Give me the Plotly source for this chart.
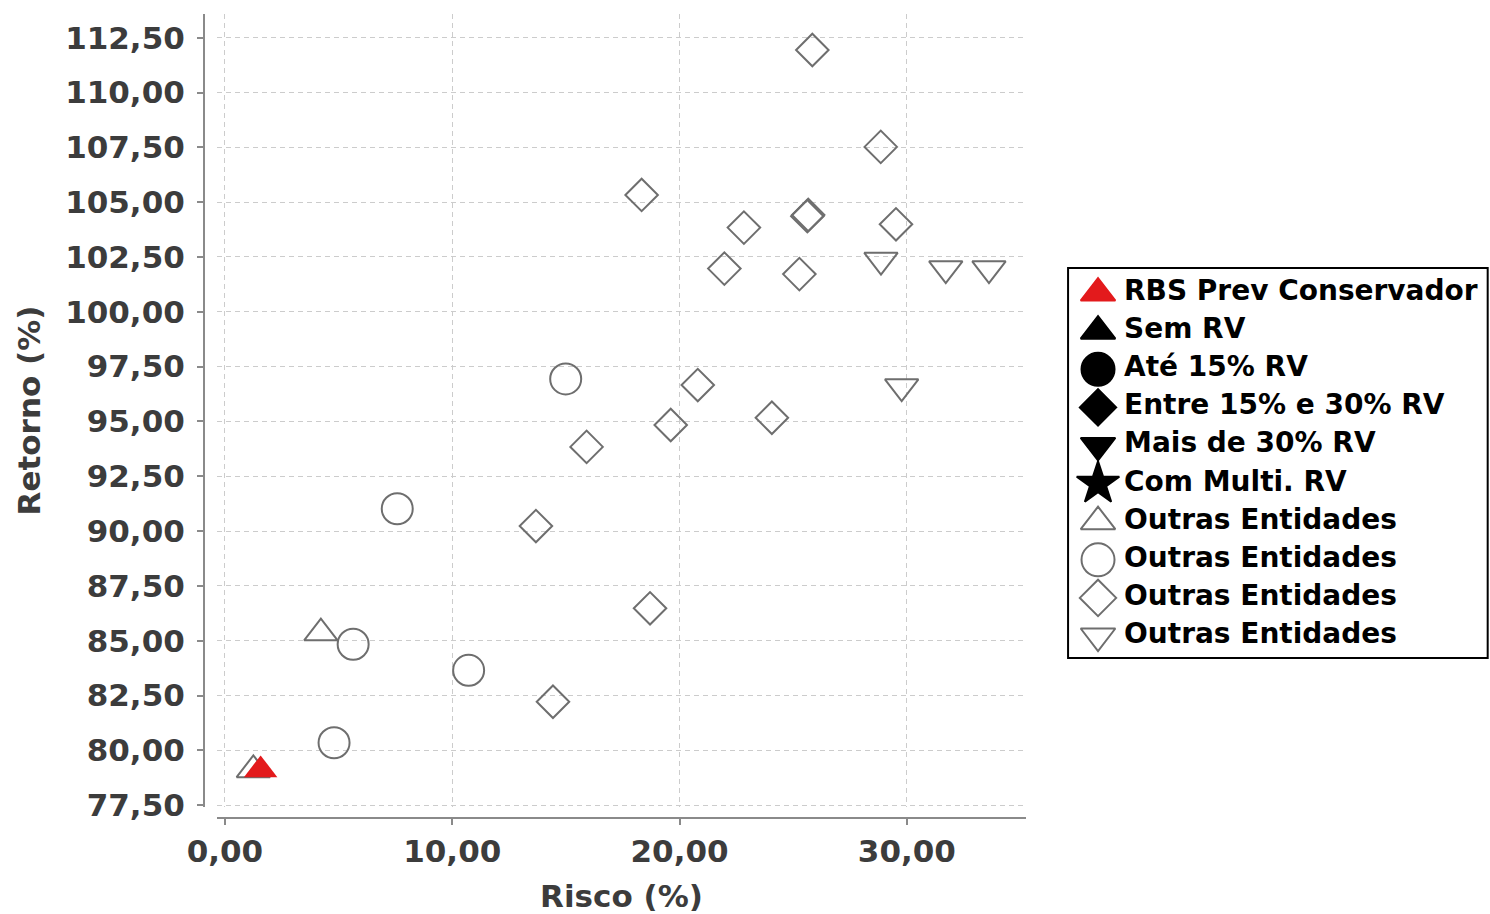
import plotly.graph_objects as go

# Risco (%) x Retorno (%) por entidade
tri_up_x = [4.22, 1.25]
tri_up_y = [85.35, 79.11]

circle_x = [14.99, 7.58, 5.64, 10.72, 4.80]
circle_y = [96.94, 91.02, 84.84, 83.65, 80.35]

diamond_x = [25.84, 28.85, 18.33, 22.83, 25.62, 25.66, 29.52, 21.97, 25.27,
             20.80, 19.61, 24.06, 15.91, 13.68, 18.70, 14.43]
diamond_y = [111.94, 107.52, 105.33, 103.84, 104.36, 104.42, 103.99, 101.97, 101.72,
             96.66, 94.84, 95.17, 93.84, 90.23, 86.48, 82.22]

tri_down_x = [28.86, 31.71, 33.61, 29.77]
tri_down_y = [102.36, 101.97, 101.97, 96.59]

rbs_x = [1.57]
rbs_y = [79.11]

# legenda (inclui categorias sem pontos)
leg_labels = ['RBS Prev Conservador', 'Sem RV', 'Até 15% RV', 'Entre 15% e 30% RV',
              'Mais de 30% RV', 'Com Multi. RV', 'Outras Entidades', 'Outras Entidades',
              'Outras Entidades', 'Outras Entidades']
leg_symbols = ['triangle-up', 'triangle-up', 'circle', 'diamond', 'triangle-down', 'star',
               'triangle-up-open', 'circle-open', 'diamond-open', 'triangle-down-open']

GRAY = '#6e6e6e'
RED = '#e31a1c'
TXT = '#3c3c3c'
FONT = 'DejaVu Sans'

leg_colors = [RED] + ['black'] * 5 + [GRAY] * 4
leg_sizes = {'triangle-up': 30, 'circle': 33, 'diamond': 28, 'triangle-down': 30, 'star': 32}

fig = go.Figure()

# Outras Entidades
outras = [
    (tri_up_x, tri_up_y, 'triangle-up-open', 29),
    (circle_x, circle_y, 'circle-open', 31),
    (diamond_x, diamond_y, 'diamond-open', 25),
    (tri_down_x, tri_down_y, 'triangle-down-open', 29),
]
for xs, ys, simb, sz in outras:
    fig.add_trace(go.Scatter(
        x=xs, y=ys, name='Outras Entidades', mode='markers',
        marker=dict(symbol=simb, size=sz, color=GRAY, line=dict(width=2, color=GRAY)),
    ))

# RBS Prev Conservador por cima
fig.add_trace(go.Scatter(
    x=rbs_x, y=rbs_y, name='RBS Prev Conservador', mode='markers',
    marker=dict(symbol='triangle-up', size=29, color=RED),
))

# caixa de legenda desenhada num eixo auxiliar (marcadores grandes como no original)
idx = list(range(len(leg_labels)))
fig.add_trace(go.Scatter(
    x=[0] * len(idx), y=idx, mode='markers', xaxis='x2', yaxis='y2',
    marker=dict(symbol=leg_symbols, color=leg_colors, opacity=1,
                size=[leg_sizes[s.replace('-open', '')] for s in leg_symbols],
                line=dict(width=2, color=leg_colors)),
    hoverinfo='skip',
))
fig.add_trace(go.Scatter(
    x=[0.062] * len(idx), y=idx, mode='text', xaxis='x2', yaxis='y2',
    text=leg_labels, textposition='middle right',
    textfont=dict(family=FONT, size=28, color='black', weight='bold'),
    hoverinfo='skip',
))

axis_common = dict(
    showline=True, linecolor='#8a8a8a', linewidth=2,
    ticks='outside', ticklen=6, tickwidth=2, tickcolor='#8a8a8a',
    showgrid=True, gridcolor='#cccccc', gridwidth=1, griddash='5px,4px',
    zeroline=False, tickformat='.2f', automargin=False,
    tickfont=dict(family=FONT, size=31, color=TXT, weight='bold'),
)

leg_dom_x = [0.6719, 0.9982]
leg_dom_y = [0.199, 0.684]

fig.update_layout(
    width=1490, height=914,
    margin=dict(l=204, r=0, t=14, b=96),
    plot_bgcolor='white', paper_bgcolor='white',
    separators=',.',
    showlegend=False,
    xaxis=dict(
        **axis_common,
        domain=[0.0101, 0.6392], range=[-0.35, 35.24],
        tick0=0, dtick=10, anchor='free', position=0,
        ticklabelstandoff=0,
        title=dict(text='Risco (%)', standoff=16,
                   font=dict(family=FONT, size=31, color=TXT, weight='bold')),
    ),
    yaxis=dict(
        **axis_common,
        domain=[0.0137, 1], range=[77.42, 113.58],
        tick0=77.5, dtick=2.5, anchor='free', position=0,
        ticklabelstandoff=6,
        title=dict(text='Retorno (%)', standoff=14,
                   font=dict(family=FONT, size=31, color=TXT, weight='bold')),
    ),
    xaxis2=dict(domain=leg_dom_x, range=[-0.0714, 0.9286], anchor='y2',
                visible=False, fixedrange=True),
    yaxis2=dict(domain=leg_dom_y, range=[9.577, -0.656], anchor='x2',
                visible=False, fixedrange=True),
    shapes=[dict(type='rect', xref='paper', yref='paper', layer='below',
                 x0=leg_dom_x[0], x1=leg_dom_x[1], y0=leg_dom_y[0], y1=leg_dom_y[1],
                 line=dict(color='black', width=2))],
)

# sem margem do body para a figura ocupar a janela inteira
fig.write_html('out.html', config={'displayModeBar': False},
               post_script="document.body.style.margin='0';document.body.style.overflow='hidden';")
